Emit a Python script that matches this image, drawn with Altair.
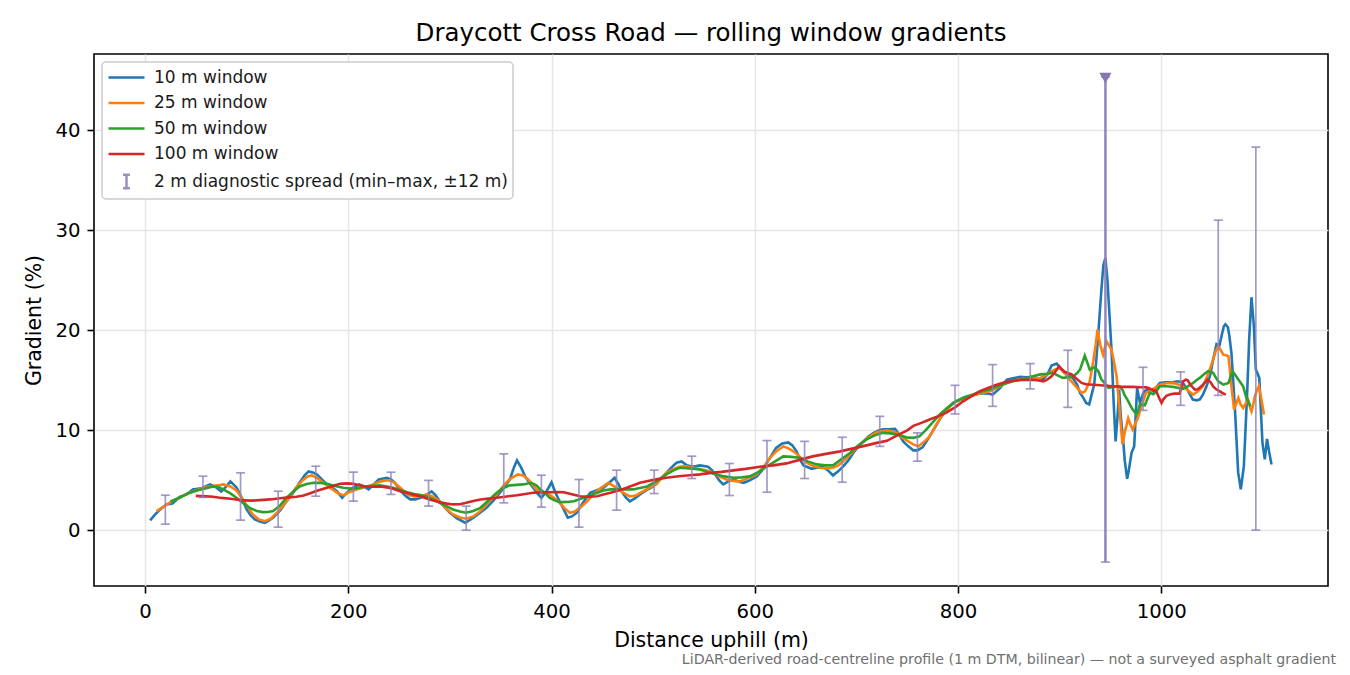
import altair as alt
import pandas as pd
import numpy as np

# ---------------- data ----------------
series_names = ["10 m window", "25 m window", "50 m window", "100 m window",
                "2 m diagnostic spread (min\u2013max, \u00b112 m)"]
series_colors = ["#1f77b4", "#ff7f0e", "#2ca02c", "#d62728", "#9c8ec1"]

w10_d = [5, 10, 15, 21, 27, 34, 41, 47, 55, 64, 70, 75, 80, 84, 90, 95, 100, 104, 108, 113,
         118, 122, 126, 133, 139, 146, 152, 157, 161, 165, 169, 174, 179, 184, 189, 194, 198, 202, 207, 211,
         215, 220, 225, 230, 238, 242, 246, 251, 257, 261, 266, 271, 276, 282, 286, 290, 295, 300, 307, 315,
         319, 323, 330, 336, 343, 349, 354, 359, 363, 366, 370, 374, 378, 382, 386, 390, 395, 400, 403, 407,
         412, 416, 420, 425, 431, 438, 444, 451, 457, 462, 466, 469, 473, 477, 482, 487, 493, 500, 506, 513,
         518, 523, 528, 533, 539, 546, 554, 558, 561, 565, 569, 574, 579, 584, 589, 595, 602, 607, 612, 617,
         621, 627, 633, 637, 641, 645, 648, 656, 662, 667, 672, 677, 682, 687, 692, 697, 702, 707, 712, 717,
         722, 726, 732, 738, 742, 746, 751, 756, 760, 765, 769, 775, 782, 788, 795, 801, 808, 815, 821, 828,
         834, 841, 848, 854, 861, 867, 874, 879, 884, 888, 892, 897, 901, 905, 909, 913, 917, 920, 923, 926,
         929, 931, 934, 936, 938, 941, 943, 945, 947, 949, 951, 953, 955, 957, 958.5, 960, 962.4, 964, 966.4, 968,
         970.7, 973.3, 976.2, 979, 982, 985, 988, 992, 995, 998.5, 1004, 1011, 1016, 1021, 1026, 1031, 1035, 1038, 1041, 1044.5,
         1048, 1051, 1054.3, 1057, 1059.2, 1061.5, 1063, 1065.5, 1067, 1069, 1072.3, 1075.6, 1078.2, 1081.2, 1084.6, 1086.4, 1088.7, 1091, 1093, 1096.4,
         1099.5, 1101.8, 1104, 1106, 1108.4]
w10_v = [1.0, 1.6, 2.1, 2.6, 2.7, 3.35, 3.6, 4.1, 4.2, 4.6, 4.3, 3.9, 4.4, 4.9, 4.3, 3.3, 2.1, 1.5, 1.1, 0.9,
         0.77, 1.0, 1.27, 2.0, 2.9, 3.8, 4.76, 5.5, 5.9, 5.8, 5.6, 5.1, 4.6, 4.3, 3.9, 3.26, 3.7, 4.1, 4.4, 4.6,
         4.4, 4.1, 4.6, 5.1, 5.26, 5.1, 4.76, 4.0, 3.4, 3.1, 3.1, 3.26, 3.5, 3.9, 3.5, 2.9, 2.3, 1.77, 1.2, 0.77,
         1.0, 1.27, 1.8, 2.26, 3.0, 3.76, 4.4, 5.1, 6.3, 7.0, 6.3, 5.4, 4.8, 4.26, 3.7, 3.26, 3.9, 4.8, 4.0, 3.1,
         2.1, 1.27, 1.4, 1.77, 2.8, 3.76, 4.0, 4.26, 4.8, 5.26, 4.6, 3.9, 3.3, 2.9, 3.2, 3.6, 4.0, 4.4, 5.0, 5.76,
         6.3, 6.76, 6.9, 6.5, 6.36, 6.5, 6.36, 6.0, 5.6, 5.0, 4.6, 4.9, 5.1, 4.9, 4.76, 5.0, 5.4, 6.0, 6.76, 7.6,
         8.25, 8.7, 8.8, 8.5, 7.9, 7.0, 6.5, 6.16, 6.3, 6.36, 6.0, 5.5, 5.9, 6.4, 7.0, 7.76, 8.4, 8.9, 9.4, 9.75,
         10.0, 10.1, 10.1, 10.15, 9.6, 8.9, 8.4, 8.0, 8.0, 8.3, 8.9, 9.9, 11.1, 12.0, 12.74, 13.0, 13.24, 13.5, 13.67, 13.7,
         13.57, 14.2, 15.07, 15.2, 15.34, 15.3, 15.34, 15.2, 15.14, 15.6, 16.47, 16.67, 16.2, 15.74, 15.5, 15.2, 14.6, 13.74, 13.3, 12.74,
         12.6, 13.4, 14.6, 17.0, 19.7, 24.0, 26.5, 27.2, 25.0, 21.5, 18.0, 13.0, 8.9, 11.5, 14.07, 11.5, 9.1, 7.0, 5.16, 6.0,
         7.76, 8.4, 14.24, 12.74, 13.67, 14.07, 14.0, 13.9, 14.3, 14.74, 14.8, 14.8, 14.9, 14.8, 14.0, 13.07, 13.0, 13.1, 13.6, 14.4,
         15.5, 17.07, 18.6, 18.4, 19.4, 20.4, 20.6, 20.3, 19.4, 17.7, 12.4, 5.8, 4.1, 6.4, 14.07, 19.0, 23.3, 20.5, 16.07, 15.24,
         8.75, 7.1, 9.15, 7.9, 6.6]

w25_d = [11.5, 20, 28, 35, 42, 50, 58, 65, 72, 77, 84, 90, 95, 100, 106, 112, 118, 124, 131, 140,
         148, 155, 160, 164, 170, 175, 183, 190, 196, 200, 208, 215, 222, 229, 236, 240, 245, 252, 258, 264,
         270, 277, 283, 290, 296, 303, 310, 316, 323, 330, 338, 346, 353, 359, 367, 372, 377, 385, 390, 395,
         402, 408, 413, 418, 423, 430, 436, 441, 448, 456, 464, 470, 477, 483, 490, 497, 503, 508, 513, 519,
         526, 532, 539, 547, 556, 563, 572, 579, 585, 593, 602, 609, 615, 621, 628, 633, 638, 645, 651, 658,
         664, 670, 677, 682, 687, 694, 700, 707, 713, 720, 730, 740, 745, 751, 756, 761, 766, 772, 778, 785,
         792, 798, 806, 814, 822, 831, 839, 848, 856, 864, 872, 880, 886, 892, 896, 900, 905, 910, 915, 921.5,
         925, 929.6, 933, 935.5, 937.2, 940, 942.7, 946, 948.5, 951, 953.5, 956, 958.5, 961.8, 964, 967.4, 969.5, 971.7, 974.5, 977,
         981, 985, 988.7, 993, 998.5, 1005, 1011.6, 1016, 1021.4, 1026, 1031.3, 1036, 1041, 1046, 1051, 1053.5, 1056, 1058.5, 1061, 1063.5,
         1066, 1067.5, 1069, 1071.6, 1075.8, 1078, 1080.5, 1083, 1085.4, 1087, 1088.7, 1090.5, 1092, 1094, 1096, 1098.5, 1101]
w25_v = [1.93, 2.5, 3.0, 3.3, 3.7, 4.0, 4.3, 4.4, 4.5, 4.6, 4.4, 4.0, 3.3, 2.5, 1.6, 1.1, 0.93, 1.2, 1.9, 3.0,
         4.2, 5.0, 5.4, 5.5, 5.2, 4.8, 4.2, 3.7, 3.5, 3.8, 4.1, 4.3, 4.5, 4.8, 5.0, 5.0, 4.8, 4.2, 3.6, 3.4,
         3.4, 3.6, 3.4, 2.9, 2.2, 1.6, 1.3, 1.17, 1.4, 1.93, 2.8, 3.6, 4.5, 5.16, 5.6, 5.5, 5.1, 4.1, 3.8, 3.76,
         3.3, 2.76, 2.2, 1.77, 1.9, 2.43, 3.0, 3.6, 4.2, 4.76, 4.26, 3.8, 3.4, 3.5, 3.9, 4.3, 4.6, 5.2, 5.76, 6.1,
         6.36, 6.4, 6.26, 6.1, 5.9, 5.5, 5.1, 4.95, 4.9, 5.2, 5.6, 6.4, 7.26, 7.9, 8.4, 8.2, 7.9, 7.3, 6.76, 6.4,
         6.26, 6.2, 6.26, 6.5, 6.9, 7.6, 8.25, 8.9, 9.4, 9.8, 10.0, 9.75, 9.3, 8.9, 8.6, 8.4, 8.8, 9.4, 10.5, 11.6,
         12.4, 12.9, 13.2, 13.47, 13.7, 13.9, 14.3, 14.74, 15.0, 15.14, 15.2, 15.2, 15.5, 15.9, 16.1, 16.24, 15.7, 15.07, 14.5, 13.74,
         13.9, 14.9, 16.9, 18.6, 20.06, 18.5, 17.56, 18.9, 18.5, 18.06, 16.8, 15.4, 12.5, 8.6, 9.8, 11.2, 10.6, 10.08, 10.7, 11.25,
         12.6, 13.74, 13.9, 14.2, 14.57, 14.7, 14.74, 14.6, 14.4, 14.0, 13.57, 13.9, 14.4, 15.6, 17.07, 17.9, 18.4, 18.0, 17.56, 17.5,
         17.4, 16.0, 14.4, 12.07, 13.24, 12.6, 12.24, 12.7, 13.07, 12.4, 11.9, 12.6, 13.4, 14.0, 14.4, 13.07, 11.58]

w50_d = [25, 34, 42, 51, 59, 67, 72, 77, 84, 90, 97, 103, 110, 116, 121, 126, 133, 139, 146, 152,
         159, 166, 172, 179, 187, 195, 205, 212, 218, 225, 231, 238, 244, 251, 258, 265, 271, 277, 284, 290,
         297, 303, 310, 316, 323, 330, 338, 346, 352, 359, 366, 372, 380, 385, 389, 394, 398, 403, 408, 415,
         422, 428, 435, 443, 451, 458, 464, 472, 480, 487, 494, 503, 513, 520, 526, 536, 546, 554, 562, 570,
         579, 587, 595, 603, 612, 620, 628, 636, 644, 652, 661, 669, 677, 685, 694, 702, 710, 718, 726, 734,
         743, 749, 756, 762, 768, 775, 782, 790, 798, 806, 814, 822, 831, 839, 848, 856, 864, 872, 880, 887,
         893, 898, 903, 908, 913, 917, 920, 922.5, 924.7, 927, 929.6, 932, 934.6, 938, 941, 944.5, 948, 951, 954, 959,
         962, 964, 967, 971, 975.6, 977, 979, 983.8, 988.7, 992, 995, 998.5, 1005, 1011.6, 1016, 1021.4, 1026, 1031.3, 1034.5, 1037.8,
         1042, 1046, 1051, 1053.5, 1056, 1061, 1066, 1068, 1070, 1073, 1075.8, 1080.5, 1083.8, 1086, 1087.8]
w50_v = [2.9, 3.26, 3.7, 4.0, 4.2, 4.4, 4.35, 4.1, 3.7, 3.26, 2.7, 2.26, 1.95, 1.83, 1.85, 1.93, 2.5, 3.26, 3.9, 4.4,
         4.65, 4.76, 4.75, 4.66, 4.45, 4.26, 4.16, 4.3, 4.4, 4.45, 4.5, 4.4, 4.26, 4.05, 3.82, 3.65, 3.55, 3.4, 3.1, 2.76,
         2.4, 2.1, 1.9, 1.77, 1.95, 2.26, 3.0, 3.76, 4.2, 4.5, 4.55, 4.6, 4.76, 4.5, 4.1, 3.7, 3.26, 3.0, 2.82, 2.85,
         2.92, 3.15, 3.4, 3.7, 4.0, 4.1, 4.1, 4.1, 4.1, 4.25, 4.4, 4.9, 5.6, 6.0, 6.26, 6.2, 6.09, 5.85, 5.6, 5.4,
         5.26, 5.3, 5.4, 5.8, 6.4, 6.9, 7.4, 7.35, 7.26, 6.9, 6.6, 6.5, 6.5, 7.1, 7.76, 8.5, 9.1, 9.5, 9.75, 9.7,
         9.5, 9.3, 9.25, 9.4, 10.0, 10.8, 11.58, 12.3, 12.9, 13.3, 13.57, 13.85, 14.07, 14.4, 14.74, 14.95, 15.14, 15.35, 15.57, 15.65,
         15.74, 15.5, 15.24, 15.3, 15.4, 15.7, 16.07, 16.8, 17.45, 16.8, 16.07, 16.2, 16.3, 15.9, 15.1, 14.7, 14.24, 14.3, 14.4, 14.4,
         14.0, 13.5, 13.0, 12.2, 11.58, 11.9, 12.6, 12.5, 13.74, 13.6, 13.9, 14.4, 14.4, 14.34, 14.25, 14.14, 14.4, 14.74, 15.0, 15.24,
         15.6, 15.9, 15.74, 15.3, 14.9, 14.57, 14.74, 15.3, 15.9, 15.5, 15.07, 14.4, 13.24, 12.8, 12.4]

w100_d = [50, 60, 67, 75, 84, 97, 105, 113, 123, 133, 141, 149, 156, 162, 170, 179, 186, 192, 199, 205,
          212, 218, 225, 231, 238, 244, 251, 258, 264, 271, 280, 290, 297, 303, 310, 316, 323, 330, 338, 346,
          356, 366, 374, 382, 391, 398, 405, 412, 420, 428, 436, 445, 451, 458, 466, 474, 480, 487, 495, 503,
          513, 525, 536, 546, 557, 567, 579, 591, 605, 618, 631, 644, 657, 670, 684, 697, 710, 720, 730, 742,
          750, 756, 764, 772, 780, 788, 797, 805, 813, 821, 830, 838, 846, 854, 862, 871, 878, 884, 888, 892,
          896, 899.5, 902, 905, 911.6, 916, 921.5, 926, 933, 940, 946, 952, 959, 966, 972, 979, 985.4, 990, 995, 998,
          1000.2, 1002, 1005, 1009, 1013, 1018, 1021.4, 1024, 1026, 1029, 1033, 1036, 1039.4, 1043, 1045.5, 1048.5, 1051, 1054, 1057.7, 1060.5,
          1063.5]
w100_v = [3.45, 3.4, 3.36, 3.25, 3.16, 3.0, 2.98, 3.03, 3.1, 3.22, 3.3, 3.36, 3.5, 3.7, 3.98, 4.26, 4.5, 4.66, 4.7, 4.66,
          4.5, 4.36, 4.37, 4.4, 4.3, 4.16, 3.92, 3.75, 3.58, 3.42, 3.1, 2.82, 2.68, 2.6, 2.62, 2.76, 2.95, 3.1, 3.18, 3.26,
          3.4, 3.52, 3.65, 3.76, 3.8, 3.82, 3.84, 3.82, 3.62, 3.42, 3.38, 3.42, 3.6, 3.76, 4.0, 4.26, 4.5, 4.76, 4.93, 5.1,
          5.26, 5.42, 5.52, 5.6, 5.75, 5.85, 6.0, 6.15, 6.36, 6.5, 6.7, 7.05, 7.4, 7.65, 7.9, 8.2, 8.5, 8.75, 8.95, 9.6,
          10.0, 10.45, 10.75, 11.08, 11.4, 11.74, 12.3, 12.9, 13.4, 13.9, 14.25, 14.57, 14.8, 14.97, 15.03, 15.07, 15.0, 14.9, 15.1, 15.4,
          15.9, 16.4, 16.1, 15.85, 15.6, 15.2, 14.74, 14.6, 14.55, 14.5, 14.45, 14.4, 14.34, 14.34, 14.34, 14.3, 14.3, 14.1, 13.9, 13.2,
          12.74, 13.1, 13.45, 13.6, 13.67, 13.67, 14.9, 15.07, 15.0, 14.5, 14.07, 14.1, 14.4, 14.8, 15.07, 14.8, 14.4, 14.1, 13.9, 13.7,
          13.57]

eb_d = [20, 57, 94, 131, 168, 205, 242, 279, 316, 353, 390, 427, 464, 501, 538,
        575, 612, 649, 686, 723, 760, 797, 834, 871, 908, 945, 982, 1019, 1056, 1093]
eb_lo = [0.63, 3.3, 1.03, 0.33, 3.42, 2.92, 3.6, 2.43, 0.03, 2.76, 2.33, 0.33, 2.03, 3.69, 5.19,
         3.49, 3.82, 5.19, 4.82, 8.4, 6.92, 11.64, 12.4, 14.14, 12.3, -3.16, 12.0, 12.5, 13.5, 0.03]
eb_hi = [3.52, 5.42, 5.76, 3.92, 6.42, 5.82, 5.82, 5.0, 2.43, 7.65, 5.52, 5.09, 6.02, 6.02, 7.42,
         6.69, 8.98, 8.9, 9.31, 11.4, 9.75, 14.5, 16.57, 16.67, 18.0, 45.3, 16.3, 15.84, 31.0, 38.3]

marker_d = [945]
marker_v = [45.2]

x_ticks = [0, 200, 400, 600, 800, 1000]
y_ticks = [0, 10, 20, 30, 40]

title_text = "Draycott Cross Road \u2014 rolling window gradients"
footnote_text = ("LiDAR-derived road-centreline profile (1 m DTM, bilinear) \u2014 "
                 "not a surveyed asphalt gradient")

# ---------------- tables ----------------
frames = []
for name, ds, vs in zip(series_names[:4], [w10_d, w25_d, w50_d, w100_d], [w10_v, w25_v, w50_v, w100_v]):
    frames.append(pd.DataFrame({"d": ds, "v": vs, "series": name}))
lines_df = pd.concat(frames, ignore_index=True)
lines_df["order"] = lines_df.index

eb_df = pd.DataFrame({"d": eb_d, "lo": eb_lo, "hi": eb_hi})
mk_df = pd.DataFrame({"d": marker_d, "v": marker_v})
leg_df = pd.DataFrame({"series": series_names, "d": [np.nan] * 5, "v": [np.nan] * 5})
foot_df = pd.DataFrame({"t": [footnote_text]})

FONT = "DejaVu Sans"
EB = "#8f80ba"

xscale = alt.Scale(domain=[-50.2, 1164], nice=False, zero=False)
yscale = alt.Scale(domain=[-5.55, 47.6], nice=False, zero=False)
cscale = alt.Scale(domain=series_names, range=series_colors)

x_enc = alt.X("d:Q", scale=xscale, title="Distance uphill (m)",
              axis=alt.Axis(values=x_ticks, format="d", labelPadding=8.5, titlePadding=9))
y_enc = alt.Y("v:Q", scale=yscale, title="Gradient (%)",
              axis=alt.Axis(values=y_ticks, format="d", titlePadding=10.5))

lines = alt.Chart(lines_df).mark_line(strokeWidth=2.6, clip=True).encode(
    x=x_enc, y=y_enc,
    color=alt.Color("series:N", scale=cscale, legend=None),
    order="order:Q",
)

rules = alt.Chart(eb_df).mark_rule(color=EB, strokeWidth=1.7, opacity=0.8).encode(
    x=alt.X("d:Q", scale=xscale), y=alt.Y("lo:Q", scale=yscale), y2="hi:Q")
# the one bar that runs off the normal range is drawn heavier, as in the reference
rules_big = alt.Chart(eb_df).transform_filter("datum.hi > 40").mark_rule(
    color=EB, strokeWidth=2.6, opacity=0.8).encode(
    x=alt.X("d:Q", scale=xscale), y=alt.Y("lo:Q", scale=yscale), y2="hi:Q")
cap_lo = alt.Chart(eb_df).mark_tick(orient="horizontal", size=9, thickness=1.7,
                                    color=EB, opacity=0.8).encode(
    x=alt.X("d:Q", scale=xscale), y=alt.Y("lo:Q", scale=yscale))
cap_hi = alt.Chart(eb_df).mark_tick(orient="horizontal", size=9, thickness=1.7,
                                    color=EB, opacity=0.8).encode(
    x=alt.X("d:Q", scale=xscale), y=alt.Y("hi:Q", scale=yscale))
marker = alt.Chart(mk_df).mark_point(shape="triangle-down", filled=True, size=150,
                                     color="#8676b0", opacity=1).encode(
    x=alt.X("d:Q", scale=xscale), y=alt.Y("v:Q", scale=yscale))

line_sym = "M-2,0L2,0"
ibeam = "M0,-0.75L0,0.75M-0.38,-0.75L0.38,-0.75M-0.38,0.75L0.38,0.75"
shape_range = [line_sym, line_sym, line_sym, line_sym, ibeam]
legend_layer = alt.Chart(leg_df).mark_point(filled=False, opacity=1, strokeWidth=2.5).encode(
    x=alt.X("d:Q", scale=xscale), y=alt.Y("v:Q", scale=yscale),
    color=alt.Color("series:N", scale=cscale, title=None),
    shape=alt.Shape("series:N", scale=alt.Scale(domain=series_names, range=shape_range), title=None),
)

foot = alt.Chart(foot_df).mark_text(align="right", baseline="middle", fontSize=14.2,
                                    font=FONT, color="#707070").encode(
    text="t:N", x=alt.value(1242), y=alt.value(606))

chart = alt.layer(lines, rules, rules_big, cap_lo, cap_hi, marker, legend_layer, foot).resolve_legend(
    color="independent", shape="independent"
).properties(
    width=1234, height=532,
    title=alt.TitleParams(title_text, fontSize=24.5, font=FONT, fontWeight="normal",
                          color="black", offset=7.5),
    padding={"left": 16, "top": 13, "right": 5, "bottom": 5},
).configure_view(
    stroke="black", strokeWidth=1.6
).configure_axis(
    domain=False, grid=True, gridColor="#e6e6e6", gridWidth=1.5,
    tickColor="black", tickWidth=1.6, tickSize=7, labelPadding=7,
    labelFont=FONT, labelFontSize=19.7, labelColor="black",
    titleFont=FONT, titleFontSize=20.5, titleFontWeight="normal", titleColor="black",
).configure_legend(
    orient="top-left", offset=8, padding=5, fillColor="white", strokeColor="#cccccc",
    strokeWidth=1.5, cornerRadius=4, labelFont=FONT, labelFontSize=17, labelColor="#1a1a1a",
    labelLimit=0, symbolSize=324, symbolStrokeWidth=2.5, symbolOffset=9, labelOffset=17,
    rowPadding=6.5,
)

chart.save("out.html", embed_options={"renderer": "svg", "actions": False})
